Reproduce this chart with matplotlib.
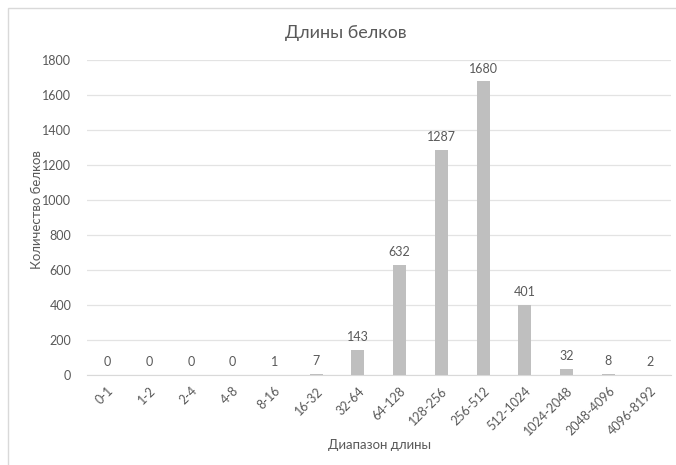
import matplotlib
matplotlib.use("Agg")
import matplotlib.pyplot as plt
from matplotlib.patches import Rectangle

categories = ["0-1", "1-2", "2-4", "4-8", "8-16", "16-32", "32-64", "64-128",
              "128-256", "256-512", "512-1024", "1024-2048", "2048-4096", "4096-8192"]
counts = [0, 0, 0, 0, 1, 7, 143, 632, 1287, 1680, 401, 32, 8, 2]
yticks = [0, 200, 400, 600, 800, 1000, 1200, 1400, 1600, 1800]

plt.rcParams['font.family'] = ['Lato', 'DejaVu Sans']
txt = '#595959'

W, H = 676, 465
fig = plt.figure(figsize=(W / 100, H / 100), dpi=100)
fig.patch.set_facecolor('white')
fig.patches.append(Rectangle((8 / W, -0.1), 1.2, 1 - 8 / H + 0.1, transform=fig.transFigure,
                             fill=False, edgecolor='#D9D9D9', linewidth=1.0))

ax = fig.add_axes([86.6 / W, 1 - 375 / H, (671 - 86.6) / W, (375 - 60.5) / H])
x = list(range(len(categories)))
ax.bar(x, counts, width=0.31, color='#BFBFBF', zorder=3)
ax.set_xlim(-0.5, len(categories) - 0.5)
ax.set_ylim(0, 1800)
ax.set_yticks(yticks)
ax.set_yticklabels([str(v) for v in yticks])
ax.grid(axis='y', color='#E3E3E3', linewidth=0.9, zorder=0)
for s in ['top', 'right', 'left']:
    ax.spines[s].set_visible(False)
ax.spines['bottom'].set_color('#D9D9D9')
ax.tick_params(axis='both', length=0, colors=txt, labelsize=9)
ax.tick_params(axis='y', pad=11)
ax.set_xticks(x)
ax.set_xticklabels(categories, rotation=45, ha='right', rotation_mode='anchor', fontsize=9)
ax.tick_params(axis='x', pad=7)

for xi, v in zip(x, counts):
    ax.annotate(str(v), (xi, v), xytext=(0, 5), textcoords='offset points',
                ha='center', va='bottom', fontsize=9, color=txt)

fig.text(346 / W, 1 - 33 / H, 'Длины белков', ha='center', va='center',
         fontsize=13, color=txt)
fig.text(379 / W, 1 - 445 / H, 'Диапазон длины', ha='center', va='center',
         fontsize=9.5, color=txt)
fig.text(37 / W, 1 - 210 / H, 'Количество белков', ha='center', va='center',
         rotation=90, fontsize=9.5, color=txt)

fig.savefig('out.png', dpi=100)
